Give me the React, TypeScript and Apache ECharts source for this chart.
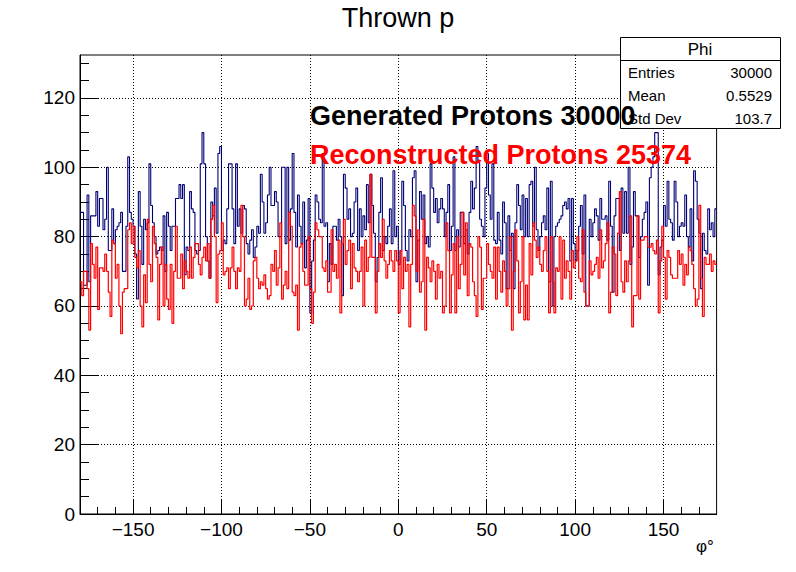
import React, { useEffect, useRef } from "react";
import * as echarts from "echarts";

// Bin contents, 1 degree bins from -180 to 180
const generatedCounts = [
  87, 87, 66, 66, 92, 67, 86, 86, 86, 93, 83, 91, 91, 82, 85, 100, 76, 76, 88, 78, 82, 83, 84, 87, 70, 70, 83, 103, 87,
  85, 83, 75, 62, 93, 83, 72, 85, 82, 84, 101, 89, 84, 80, 75, 76, 77, 76, 86, 70, 87, 83, 76, 83, 83, 91, 91, 95, 91, 95,
  69, 77, 76, 93, 88, 87, 76, 75, 76, 101, 110, 101, 80, 73, 68, 90, 86, 94, 81, 104, 106, 76, 79, 78, 88, 101, 101, 88, 78,
  101, 83, 88, 81, 89, 88, 78, 75, 79, 82, 74, 77, 83, 81, 98, 90, 81, 84, 92, 100, 89, 89, 93, 90, 80, 80, 100, 100, 78,
  100, 79, 88, 104, 87, 77, 92, 83, 78, 90, 71, 79, 91, 58, 73, 79, 92, 90, 85, 84, 104, 83, 84, 67, 78, 72, 83, 83, 79,
  85, 80, 63, 98, 94, 85, 88, 80, 81, 90, 94, 76, 88, 80, 86, 82, 95, 84, 98, 89, 81, 67, 74, 87, 97, 76, 80, 78, 83,
  88, 78, 99, 80, 83, 72, 76, 96, 89, 76, 73, 82, 80, 97, 99, 67, 79, 93, 85, 92, 78, 80, 77, 101, 94, 87, 91, 84, 88,
  91, 88, 80, 87, 95, 76, 83, 103, 76, 82, 77, 87, 87, 78, 82, 75, 87, 96, 88, 94, 106, 102, 85, 83, 80, 94, 104, 92, 85,
  101, 79, 78, 87, 79, 75, 90, 84, 65, 86, 76, 81, 65, 84, 95, 89, 82, 92, 80, 91, 80, 95, 96, 83, 100, 82, 76, 80, 84, 86,
  82, 94, 67, 96, 60, 80, 83, 84, 85, 86, 89, 90, 88, 91, 73, 91, 78, 73, 76, 83, 89, 75, 92, 60, 60, 85, 80, 84, 88, 86,
  79, 91, 85, 85, 86, 79, 96, 83, 64, 86, 91, 91, 76, 94, 81, 93, 81, 100, 72, 77, 93, 86, 86, 74, 80, 85, 87, 90, 66, 97, 100, 103, 110,
  110, 69, 77, 79, 89, 83, 96, 85, 84, 79, 96, 90, 80, 83, 84, 83, 92, 80, 77, 88, 73, 99, 96, 85, 81, 65, 81, 76, 75, 88, 82, 84, 80, 88,
];

const reconstructedCounts = [
  67, 63, 70, 70, 65, 53, 78, 72, 68, 77, 59, 71, 71, 70, 75, 70, 64, 57, 79, 78, 68, 72, 60, 52, 64, 65, 65, 82, 84,
  78, 83, 74, 71, 76, 60, 54, 69, 61, 85, 72, 67, 83, 78, 74, 56, 72, 77, 60, 72, 62, 59, 72, 55, 70, 83, 68, 68, 75, 65,
  73, 70, 68, 77, 68, 74, 78, 78, 72, 69, 74, 77, 73, 78, 68, 85, 89, 80, 61, 75, 76, 84, 69, 70, 71, 65, 71, 77, 70,
  65, 71, 70, 89, 80, 60, 62, 68, 59, 60, 73, 74, 68, 65, 67, 66, 69, 65, 62, 63, 72, 70, 76, 66, 71, 84, 62, 66, 70,
  65, 87, 83, 64, 63, 66, 53, 77, 78, 70, 66, 66, 80, 65, 55, 64, 84, 82, 80, 80, 71, 70, 73, 64, 64, 82, 70, 72, 68,
  79, 58, 78, 85, 72, 76, 79, 65, 78, 71, 70, 67, 70, 77, 60, 79, 70, 74, 98, 74, 74, 58, 70, 78, 74, 85, 73, 68, 72,
  76, 73, 70, 76, 73, 58, 76, 65, 74, 70, 72, 54, 72, 89, 86, 70, 82, 64, 67, 85, 53, 74, 71, 67, 73, 70, 62, 72, 68,
  70, 58, 60, 84, 76, 58, 69, 78, 58, 80, 65, 72, 87, 69, 84, 63, 78, 77, 67, 63, 57, 80, 77, 59, 68, 68, 78, 72, 70,
  68, 77, 62, 77, 70, 64, 73, 70, 60, 65, 80, 53, 70, 82, 73, 58, 67, 80, 56, 66, 56, 78, 69, 84, 79, 74, 77, 72, 70, 76,
  80, 70, 58, 80, 67, 58, 71, 70, 80, 62, 79, 68, 73, 70, 62, 76, 71, 73, 80, 68, 67, 82, 64, 60, 60, 73, 69, 70, 72, 74,
  68, 82, 71, 73, 78, 84, 58, 64, 77, 75, 63, 81, 93, 67, 64, 73, 67, 73, 86, 54, 63, 63, 86, 62, 79, 79, 80, 80, 77, 77, 78, 76, 75,
  79, 58, 73, 83, 74, 62, 76, 74, 69, 68, 68, 68, 76, 72, 75, 66, 72, 69, 77, 76, 72, 65, 60, 62, 89, 68, 57, 74, 72, 72, 75, 70, 73, 72,
];

const xMin = -180;
const xMax = 180;
const binWidth = 1;
const yMax = 132.4;

const xMajorTicks = [-150, -100, -50, 0, 50, 100, 150];
const xMinorTicks = [
  -170, -160, -140, -130, -120, -110, -90, -80, -70, -60, -40, -30, -20, -10,
  10, 20, 30, 40, 60, 70, 80, 90, 110, 120, 130, 140, 160, 170,
];
const yMajorTicks = [0, 20, 40, 60, 80, 100, 120];
const yMinorTicks = [5, 10, 15, 25, 30, 35, 45, 50, 55, 65, 70, 75, 85, 90, 95, 105, 110, 115, 125, 130];

const titleText = "Thrown p";
const statsTitle = "Phi";
const statsRows = [
  ["Entries", "30000"],
  ["Mean", "0.5529"],
  ["Std Dev", "103.7"],
];
const label1 = "Generated Protons 30000";
const label2 = "Reconstructed Protons 25374";
const xTitle = "φ°";

const FONT = "'Liberation Sans', Arial, Helvetica, sans-serif";

function toSteps(counts: number[]) {
  const pts: number[][] = counts.map((v, i) => [xMin + i * binWidth, v]);
  pts.push([xMax, counts[counts.length - 1]]);
  return pts;
}

function fmt(v: number) {
  return v < 0 ? "\u2212" + Math.abs(v) : String(v);
}

export default function App() {
  const ref = useRef<HTMLDivElement>(null);

  useEffect(() => {
    if (!ref.current) return;
    const chart = echarts.init(ref.current, undefined, { renderer: "svg" });

    const gridLeft = 80;
    const gridTop = 55;
    const gridRight = 796 - 716.6;
    const gridBottom = 572 - 514;

    const statsX = 620;
    const statsY = 37;
    const statsW = 160;
    const statsH = 91;

    const graphic: any[] = [
      {
        type: "text",
        left: "center",
        top: 4,
        style: { text: titleText, font: `27px ${FONT}`, fill: "#000" },
      },
      {
        type: "rect",
        shape: { x: statsX + 0.5, y: statsY + 0.5, width: statsW, height: statsH },
        style: { fill: "#fff", stroke: "#000", lineWidth: 1 },
        z: 110,
      },
      {
        type: "line",
        shape: { x1: statsX, y1: statsY + 23.5, x2: statsX + statsW, y2: statsY + 23.5 },
        style: { stroke: "#000", lineWidth: 1 },
        z: 111,
      },
      {
        type: "text",
        x: statsX + statsW / 2,
        y: statsY + 12,
        style: { text: statsTitle, font: `17px ${FONT}`, fill: "#000", align: "center", verticalAlign: "middle" },
        z: 112,
      },
      {
        type: "text",
        x: 705,
        y: 546,
        style: { text: xTitle, font: `17px ${FONT}`, fill: "#000", align: "center", verticalAlign: "middle" },
      },
    ];
    statsRows.forEach((row, i) => {
      const cy = statsY + 35 + i * 23;
      graphic.push({
        type: "text",
        x: statsX + 8,
        y: cy,
        style: { text: row[0], font: `15px ${FONT}`, fill: "#000", align: "left", verticalAlign: "middle" },
        z: 112,
      });
      graphic.push({
        type: "text",
        x: statsX + statsW - 8,
        y: cy,
        style: { text: row[1], font: `15px ${FONT}`, fill: "#000", align: "right", verticalAlign: "middle" },
        z: 112,
      });
    });
    graphic.push(
      {
        type: "text",
        x: 310,
        y: 102,
        style: { text: label1, font: `bold 27px ${FONT}`, fill: "#000" },
        z: 120,
      },
      {
        type: "text",
        x: 310,
        y: 141,
        style: { text: label2, font: `bold 27px ${FONT}`, fill: "#ff0000" },
        z: 120,
      }
    );

    const option: any = {
      animation: false,
      backgroundColor: "#fff",
      grid: {
        left: gridLeft,
        top: gridTop,
        right: gridRight,
        bottom: gridBottom,
        show: true,
        borderColor: "#000",
        borderWidth: 1,
        backgroundColor: "transparent",
        containLabel: false,
      },
      xAxis: [
        {
          type: "value",
          min: xMin,
          max: xMax,
          position: "bottom",
          axisLine: { show: true, onZero: false, lineStyle: { color: "#000", width: 1 } },
          axisTick: { show: true, inside: true, length: 14, customValues: xMajorTicks, lineStyle: { color: "#000" } },
          axisLabel: {
            show: true,
            customValues: xMajorTicks,
            formatter: (v: number) => fmt(v),
            color: "#000",
            fontFamily: FONT,
            fontSize: 19,
            margin: 6,
          },
          splitLine: { show: true, lineStyle: { color: "#000", type: [1, 2], width: 1 } },
        },
        {
          type: "value",
          min: xMin,
          max: xMax,
          position: "bottom",
          axisLine: { show: false, onZero: false },
          axisTick: { show: true, inside: true, length: 7, customValues: xMinorTicks, lineStyle: { color: "#000" } },
          axisLabel: { show: false },
          splitLine: { show: false },
        },
      ],
      yAxis: [
        {
          type: "value",
          min: 0,
          max: yMax,
          position: "left",
          axisLine: { show: true, onZero: false, lineStyle: { color: "#000", width: 1 } },
          axisTick: { show: true, inside: true, length: 18, customValues: yMajorTicks, lineStyle: { color: "#000" } },
          axisLabel: {
            show: true,
            customValues: yMajorTicks,
            color: "#000",
            fontFamily: FONT,
            fontSize: 19,
            margin: 5,
          },
          splitLine: { show: true, lineStyle: { color: "#000", type: [1, 2], width: 1 } },
        },
        {
          type: "value",
          min: 0,
          max: yMax,
          position: "left",
          axisLine: { show: false, onZero: false },
          axisTick: { show: true, inside: true, length: 9, customValues: yMinorTicks, lineStyle: { color: "#000" } },
          axisLabel: { show: false },
          splitLine: { show: false },
        },
      ],
      series: [
        {
          name: "Generated",
          type: "line",
          step: "end",
          xAxisIndex: 0,
          yAxisIndex: 0,
          data: toSteps(generatedCounts),
          showSymbol: false,
          symbol: "none",
          lineStyle: { color: "#000075", width: 1.1 },
          z: 3,
        },
        {
          name: "Reconstructed",
          type: "line",
          step: "end",
          xAxisIndex: 0,
          yAxisIndex: 0,
          data: toSteps(reconstructedCounts),
          showSymbol: false,
          symbol: "none",
          lineStyle: { color: "#ff0000", width: 1.2 },
          z: 4,
        },
      ],
      graphic,
    };

    chart.setOption(option);
    return () => {
      chart.dispose();
    };
  }, []);

  return (
    <div
      ref={ref}
      style={{ position: "fixed", left: 0, top: 0, width: 796, height: 572, background: "#fff" }}
    />
  );
}
